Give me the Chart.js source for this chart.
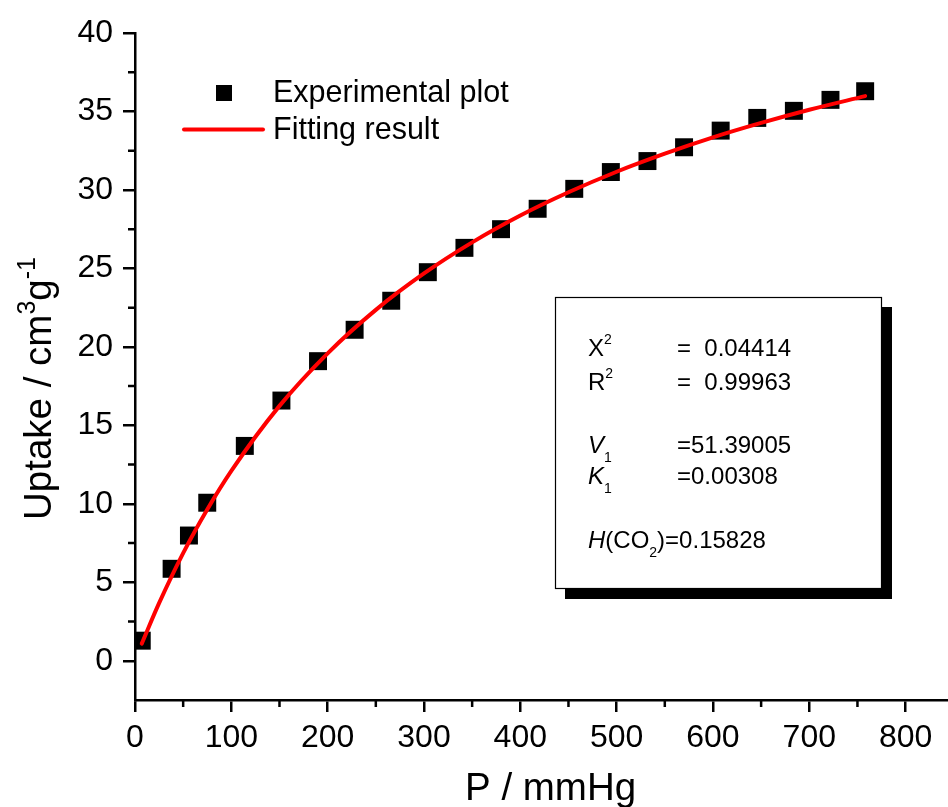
<!DOCTYPE html>
<html>
<head>
<meta charset="utf-8">
<title>CO2 uptake isotherm</title>
<script src="https://cdn.jsdelivr.net/npm/chart.js@4.4.1/dist/chart.umd.min.js"></script>
<style>
  html, body { margin: 0; padding: 0; background: #fff; }
  #wrap { width: 948px; height: 807px; position: relative; }
</style>
</head>
<body>
<div id="wrap"><canvas id="isotherm"></canvas></div>
<script>
const FONT = "'Liberation Sans', Arial, Helvetica, sans-serif";

// Measured uptake (cm3/g) at each pressure step (mmHg)
const pressure = [7, 38, 56, 75, 114, 152, 190, 228, 266, 304, 342, 380, 418, 456, 494, 532, 570, 608, 646, 684, 722, 758];
const uptake = [1.28, 5.86, 7.98, 10.07, 13.69, 16.58, 19.09, 21.09, 22.94, 24.76, 26.31, 27.5, 28.8, 30.07, 31.14, 31.84, 32.72, 33.78, 34.59, 35.04, 35.74, 36.29];

// Fitted isotherm curve
const fitPressure = [7, 25, 50, 75, 100, 150, 200, 250, 300, 350, 400, 450, 500, 550, 600, 650, 700, 758];
const fitUptake = [1.09, 3.67, 6.86, 9.64, 12.10, 16.24, 19.59, 22.36, 24.68, 26.66, 28.37, 29.85, 31.16, 32.31, 33.35, 34.27, 35.11, 35.98];

// Axis ticks
const xMajor = [0, 100, 200, 300, 400, 500, 600, 700, 800];
const xMinor = [50, 150, 250, 350, 450, 550, 650, 750];
const yMajor = [0, 5, 10, 15, 20, 25, 30, 35, 40];
const yMinor = [2.5, 7.5, 12.5, 17.5, 22.5, 27.5, 32.5, 37.5];

// Fit parameters
const chiSq = '0.04414';
const rSq = '0.99963';
const v1 = '51.39005';
const k1 = '0.00308';
const henry = '0.15828';

const seriesLabels = ['Experimental plot', 'Fitting result'];

// draw a row of text runs (normal / super / subscript / italic) from a baseline point
function drawRuns(ctx, x, y, runs) {
  let cx = x;
  runs.forEach(r => {
    ctx.font = (r.italic ? 'italic ' : '') + r.size + 'px ' + FONT;
    ctx.fillText(r.text, cx, y + (r.dy || 0));
    cx += ctx.measureText(r.text).width;
  });
}

const extras = {
  id: 'extras',
  afterDraw(chart) {
    const { ctx, chartArea: area, scales: { x, y } } = chart;
    ctx.save();
    ctx.fillStyle = '#000';
    ctx.strokeStyle = '#000';
    ctx.textAlign = 'left';
    ctx.textBaseline = 'alphabetic';

    // minor ticks
    ctx.lineWidth = 2.5;
    ctx.beginPath();
    xMinor.forEach(v => {
      const px = x.getPixelForValue(v);
      ctx.moveTo(px, area.bottom);
      ctx.lineTo(px, area.bottom + 7);
    });
    yMinor.forEach(v => {
      const py = y.getPixelForValue(v);
      ctx.moveTo(area.left, py);
      ctx.lineTo(area.left - 7, py);
    });
    ctx.stroke();

    // axis titles
    drawRuns(ctx, 465, 800, [{ text: 'P / mmHg', size: 38.5 }]);
    ctx.save();
    ctx.translate(51, 520);
    ctx.rotate(-Math.PI / 2);
    drawRuns(ctx, 0, 0, [
      { text: 'Uptake / cm', size: 38.5 },
      { text: '3', size: 25, dy: -16 },
      { text: 'g', size: 38.5 },
      { text: '-1', size: 25, dy: -16 }
    ]);
    ctx.restore();

    // legend
    const pts = chart.data.datasets[0];
    const fit = chart.data.datasets[1];
    ctx.fillStyle = pts.backgroundColor;
    ctx.fillRect(216, 85, 16, 16);
    ctx.strokeStyle = fit.borderColor;
    ctx.lineWidth = 4;
    ctx.lineCap = 'round';
    ctx.beginPath();
    ctx.moveTo(184, 129.5);
    ctx.lineTo(263, 129.5);
    ctx.stroke();
    ctx.fillStyle = '#000';
    drawRuns(ctx, 273, 102, [{ text: seriesLabels[0], size: 30.5 }]);
    drawRuns(ctx, 273, 139, [{ text: seriesLabels[1], size: 30.5 }]);

    // fit statistics box with drop shadow
    ctx.fillStyle = '#000';
    ctx.fillRect(565, 307, 327, 292);
    ctx.fillStyle = '#fff';
    ctx.fillRect(555, 297, 327, 292);
    ctx.strokeStyle = '#000';
    ctx.lineWidth = 1.2;
    ctx.strokeRect(555.5, 297.5, 326, 291);

    ctx.fillStyle = '#000';
    const tx = 588, ex = 677, fs = 24, ss = 14;
    drawRuns(ctx, tx, 356, [{ text: 'X', size: fs }, { text: '2', size: ss, dy: -12 }]);
    drawRuns(ctx, ex, 356, [{ text: '=  ' + chiSq, size: fs }]);
    drawRuns(ctx, tx, 390, [{ text: 'R', size: fs }, { text: '2', size: ss, dy: -12 }]);
    drawRuns(ctx, ex, 390, [{ text: '=  ' + rSq, size: fs }]);
    drawRuns(ctx, tx, 453, [{ text: 'V', size: fs, italic: true }, { text: '1', size: ss, dy: 9 }]);
    drawRuns(ctx, ex, 453, [{ text: '=' + v1, size: fs }]);
    drawRuns(ctx, tx, 484, [{ text: 'K', size: fs, italic: true }, { text: '1', size: ss, dy: 9 }]);
    drawRuns(ctx, ex, 484, [{ text: '=' + k1, size: fs }]);
    drawRuns(ctx, tx, 548, [
      { text: 'H', size: fs, italic: true },
      { text: '(CO', size: fs },
      { text: '2', size: ss, dy: 9 },
      { text: ')=' + henry, size: fs }
    ]);
    ctx.restore();
  }
};

const axisStyle = {
  border: { display: true, color: '#000', width: 2.5 },
  grid: { drawOnChartArea: false, drawTicks: true, tickLength: 12, color: '#000', lineWidth: 2.5, tickWidth: 2.5, tickColor: '#000' },
  ticks: { color: '#000', font: { family: FONT, size: 32 } }
};

new Chart(document.getElementById('isotherm'), {
  type: 'scatter',
  data: {
    datasets: [
      {
        label: seriesLabels[0],
        data: pressure.map((p, i) => ({ x: p, y: uptake[i] })),
        pointStyle: 'rect',
        pointRadius: 12.7,
        backgroundColor: '#000',
        borderColor: '#000',
        borderWidth: 0,
        order: 2
      },
      {
        label: seriesLabels[1],
        data: fitPressure.map((p, i) => ({ x: p, y: fitUptake[i] })),
        showLine: true,
        pointRadius: 0,
        borderColor: '#ff0000',
        borderWidth: 4,
        borderCapStyle: 'round',
        cubicInterpolationMode: 'monotone',
        order: 1
      }
    ]
  },
  plugins: [extras],
  options: {
    responsive: true,
    maintainAspectRatio: false,
    devicePixelRatio: 1,
    animation: false,
    // no auto gutter for the big markers, the x axis runs to the right edge
    layout: { autoPadding: false, padding: { top: 33, right: 0, left: 0, bottom: 0 } },
    plugins: { legend: { display: false }, tooltip: { enabled: false } },
    scales: {
      x: {
        ...axisStyle,
        type: 'linear',
        min: 0,
        max: 844,
        ticks: { ...axisStyle.ticks, padding: 7, maxRotation: 0 },
        afterBuildTicks: s => { s.ticks = xMajor.map(v => ({ value: v })); },
        afterFit: s => { s.height = 107; }
      },
      y: {
        ...axisStyle,
        type: 'linear',
        min: -2.5,
        max: 40,
        ticks: { ...axisStyle.ticks, padding: 10 },
        afterBuildTicks: s => { s.ticks = yMajor.map(v => ({ value: v })); },
        afterFit: s => { s.width = 135; }
      }
    }
  }
});
</script>
</body>
</html>
